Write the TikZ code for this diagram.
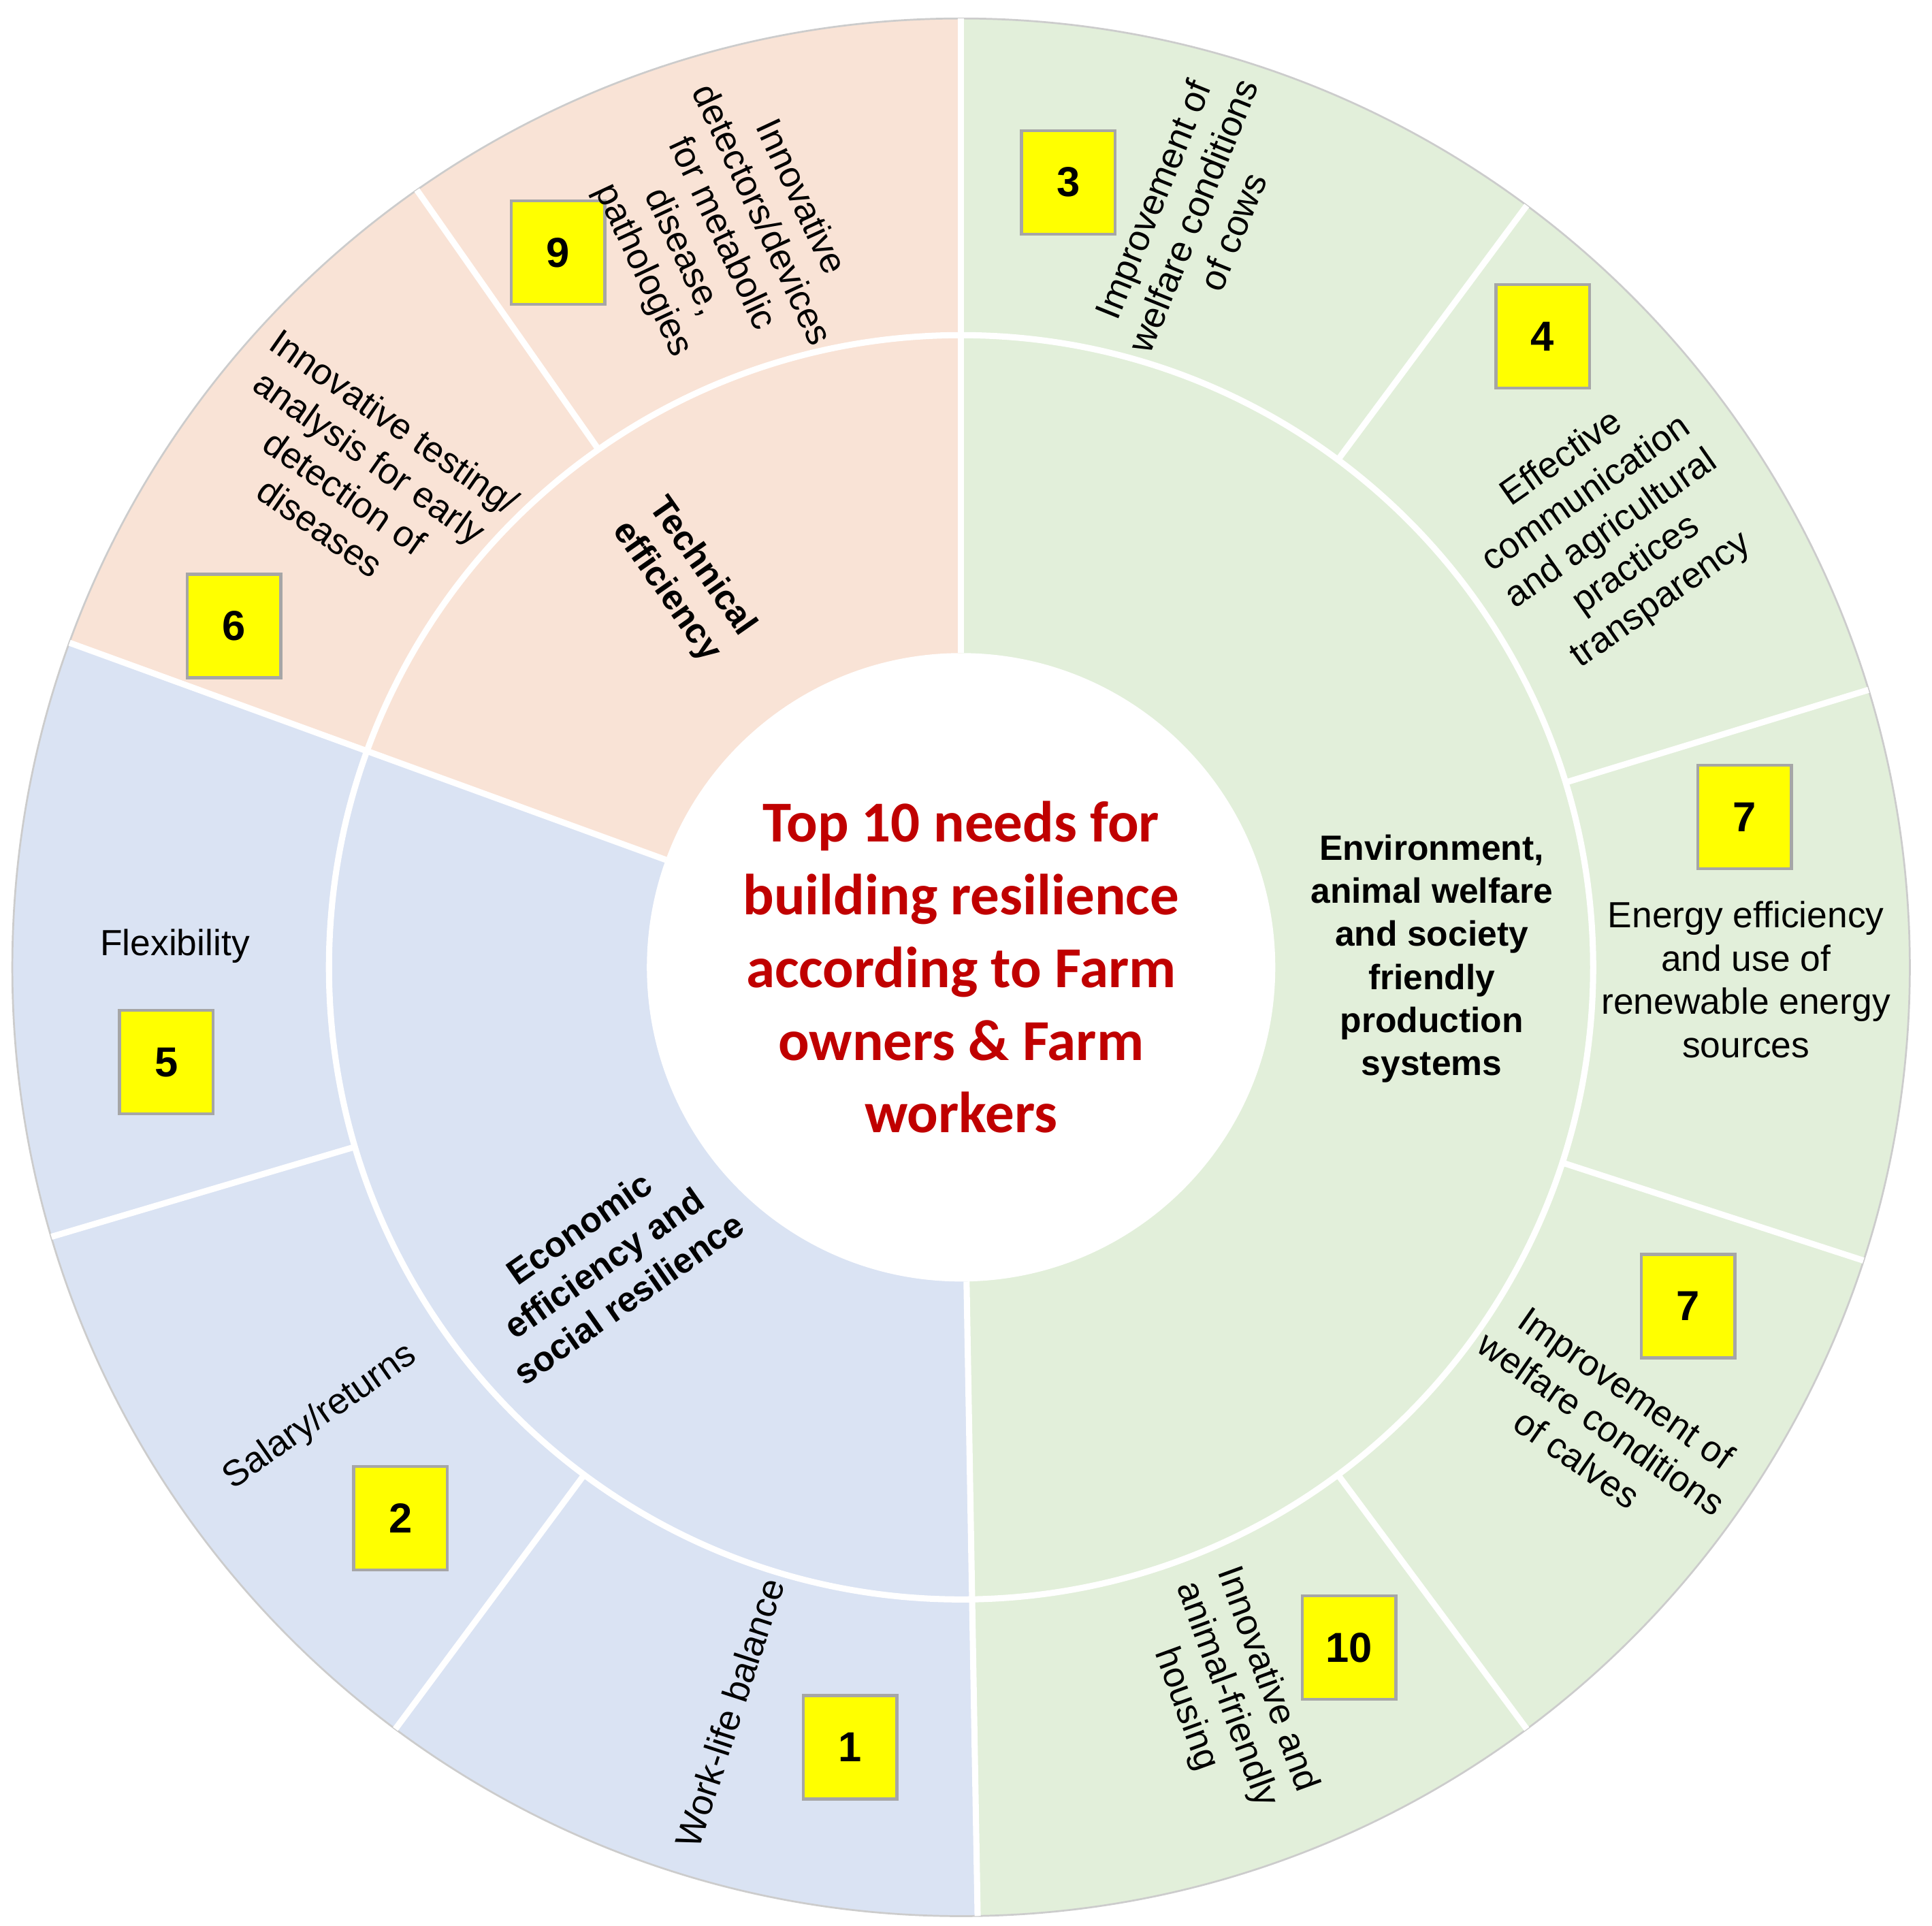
\documentclass[tikz,border=0pt]{standalone}
\usepackage{fontspec}
\setmainfont{Liberation Sans}
\newfontfamily\titlefont{Carlito}
\definecolor{cOr}{HTML}{F9E3D6}
\definecolor{cGr}{HTML}{E2EFDA}
\definecolor{cBl}{HTML}{DAE3F3}
\definecolor{cRed}{HTML}{C00000}
\definecolor{cYel}{HTML}{FFFF00}
\begin{document}
\begin{tikzpicture}[x=1pt,y=1pt,
  num/.style={draw=black!35,line width=2.5pt,fill=cYel,minimum width=76,minimum height=84,font=\fontsize{34}{36}\selectfont\bfseries},
  lab/.style={align=center,font=\fontsize{29.5}{35}\selectfont},
  mid/.style={align=center,font=\fontsize{28.5}{35}\selectfont\bfseries},
  sep/.style={white,line width=5pt}]
\useasboundingbox (-780,-778) rectangle (788,785);
\def\R{770}
\foreach \a/\b/\c in {90/160/cOr,160/271/cBl,-89/90/cGr}{
  \fill[\c] (0,0) -- (\a:\R) arc[start angle=\a,end angle=\b,radius=\R] -- cycle;}
\draw[black!20,line width=1.5pt] (0,0) circle (\R);
\draw[sep] (0,0) circle (513);
\foreach \a in {125,196.5,233.4,-53.4,-18,17,53.4}{\draw[sep] (\a:513) -- (\a:\R);}
\foreach \a in {90,160,271}{\draw[sep] (\a:255) -- (\a:\R);}
\fill[white] (0,0) circle (255);
% title
\node[align=center,text=cRed,font=\titlefont\fontsize{47}{59}\selectfont\bfseries] (title) at (0,0)
 {Top 10 needs for\\building resilience\\according to Farm\\owners \& Farm\\workers};
% middle labels
\node[mid,rotate=-55] (tech) at (-225,315) {Technical\\efficiency};
\node[mid] (env) at (382,7) {Environment,\\animal welfare\\and society\\friendly\\production\\systems};
\node[mid,rotate=35] (econ) at (-290,-240) {Economic\\efficiency and\\social resilience};
% numbers
\node[num] (n3) at (87,637) {3};
\node[num] (n4) at (472,512) {4};
\node[num] (n7a) at (636,122) {7};
\node[num] (n7b) at (590,-275) {7};
\node[num] (n10) at (315,-552) {10};
\node[num] (n1) at (-90,-633) {1};
\node[num] (n2) at (-455,-447) {2};
\node[num] (n5) at (-645,-77) {5};
\node[num] (n6) at (-590,277) {6};
\node[num] (n9) at (-327,580) {9};
% outer labels
\node[lab,rotate=68] (l3) at (188,610) {Improvement of\\welfare conditions\\of cows};
\node[lab,rotate=35] (l4) at (528,355) {Effective\\communication\\and agricultural\\practices\\transparency};
\node[lab] (l7a) at (637,-10) {Energy efficiency\\and use of\\renewable energy\\sources};
\node[lab,rotate=-35] (l7b) at (520,-370) {Improvement of\\welfare conditions\\of calves};
\node[lab,rotate=-70] (l10) at (215,-590) {Innovative and\\animal-friendly\\housing};
\node[lab,rotate=72] (l1) at (-188,-605) {Work-life balance};
\node[lab,rotate=35] (l2) at (-520,-365) {Salary/returns};
\node[lab] (l5) at (-638,17) {Flexibility};
\node[lab,rotate=-35] (l6) at (-490,400) {Innovative testing/\\analysis for early\\detection of\\diseases};
\node[lab,rotate=-65] (l9) at (-195,595) {Innovative\\detectors/devices\\for metabolic\\disease,\\pathologies};
\end{tikzpicture}
\end{document}
